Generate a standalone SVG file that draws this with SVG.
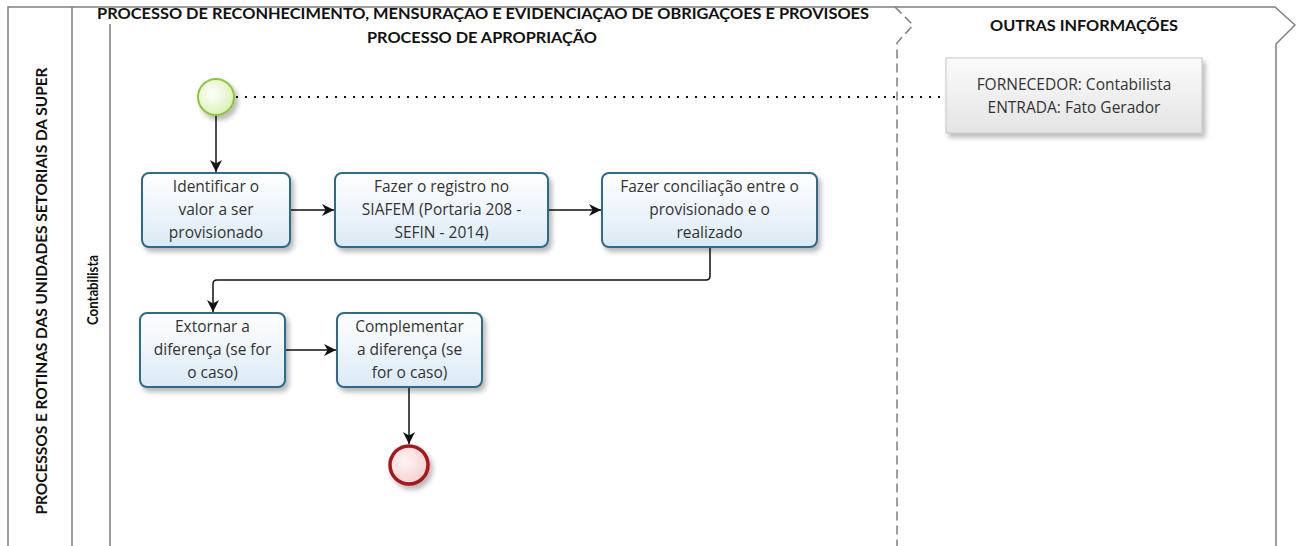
<svg xmlns="http://www.w3.org/2000/svg" width="1296" height="546" viewBox="0 0 1296 546">
<defs>
<style>
.pool{fill:none;stroke:#7f7f7f;stroke-width:1.5}
.dash{fill:none;stroke:#7f7f7f;stroke-width:1.5;stroke-dasharray:9 5}
.task{fill:url(#tg);stroke:#2e6a8a;stroke-width:2;filter:url(#sh)}
.tt{font-family:"Open Sans","Segoe UI",sans-serif;font-size:15.5px;fill:#333;text-anchor:middle}
.hd{font-family:Lato,"Segoe UI",sans-serif;font-size:15px;font-weight:bold;fill:#111}
.conn{fill:none;stroke:#111;stroke-width:1.5}
</style>
<linearGradient id="tg" x1="0" y1="0" x2="0" y2="1"><stop offset="0" stop-color="#ffffff"/><stop offset="1" stop-color="#dbeaf6"/></linearGradient>
<linearGradient id="ag" x1="0" y1="0" x2="0" y2="1"><stop offset="0" stop-color="#fbfbfb"/><stop offset="1" stop-color="#e4e4e4"/></linearGradient>
<radialGradient id="sg" cx="0.4" cy="0.4" r="0.6"><stop offset="0" stop-color="#ffffff"/><stop offset="1" stop-color="#ddf2b8"/></radialGradient>
<radialGradient id="eg" cx="0.4" cy="0.4" r="0.6"><stop offset="0" stop-color="#fff4f4"/><stop offset="1" stop-color="#f6d2d2"/></radialGradient>
<filter id="sh" x="-20%" y="-20%" width="150%" height="160%"><feDropShadow dx="3" dy="4" stdDeviation="2.5" flood-color="#000" flood-opacity="0.28"/></filter>
<marker id="ar" markerWidth="12" markerHeight="12" refX="10" refY="5" orient="auto" markerUnits="userSpaceOnUse" viewBox="0 0 10 10"><path d="M0,0 L10,5 L0,10 L3,5 z" fill="#111"/></marker>
</defs>
<rect width="1296" height="546" fill="#fff"/>
<g id="pool">
<path class="pool" d="M8,546 V7 H1275 L1295,25 L1276,44 V546"/>
<line class="pool" x1="72" y1="7" x2="72" y2="546"/>
<line class="pool" x1="110" y1="24" x2="110" y2="546"/>
<path class="dash" d="M895,7 L913,25 L897,43 V546"/>
<text class="hd" x="483" y="19" text-anchor="middle" textLength="772" lengthAdjust="spacingAndGlyphs">PROCESSO DE RECONHECIMENTO, MENSURAÇAO E EVIDENCIAÇAO DE OBRIGAÇOES E PROVISOES</text>
<text class="hd" x="482" y="43" text-anchor="middle" textLength="230" lengthAdjust="spacingAndGlyphs">PROCESSO DE APROPRIAÇÃO</text>
<text class="hd" x="1084" y="31" text-anchor="middle" textLength="188" lengthAdjust="spacingAndGlyphs">OUTRAS INFORMAÇÕES</text>
<text class="hd" transform="translate(47,291) rotate(-90)" text-anchor="middle" textLength="447" lengthAdjust="spacingAndGlyphs">PROCESSOS E ROTINAS DAS UNIDADES SETORIAIS DA SUPER</text>
<text class="hd" transform="translate(98,290) rotate(-90)" text-anchor="middle" font-size="16" textLength="70" lengthAdjust="spacingAndGlyphs">Contabilista</text>
</g>
<g id="connectors">
<line x1="236" y1="97" x2="946" y2="97" stroke="#111" stroke-width="2" stroke-dasharray="2 7"/>
<line class="conn" x1="216" y1="115" x2="216" y2="172" marker-end="url(#ar)"/>
<line class="conn" x1="290" y1="210" x2="334" y2="210" marker-end="url(#ar)"/>
<line class="conn" x1="548" y1="210" x2="601" y2="210" marker-end="url(#ar)"/>
<path class="conn" d="M710,247 V276 Q710,280 706,280 H217 Q213,280 213,284 V312" marker-end="url(#ar)"/>
<line class="conn" x1="285" y1="350" x2="336" y2="350" marker-end="url(#ar)"/>
<line class="conn" x1="409" y1="387" x2="409" y2="444" marker-end="url(#ar)"/>
</g>
<g id="start">
<circle cx="216" cy="97" r="18" fill="url(#sg)" stroke="#8cc63f" stroke-width="2" filter="url(#sh)"/>
</g>
<g id="annotation">
<rect x="946" y="58" width="256" height="75" fill="url(#ag)" stroke="#c4c4c4" stroke-width="1" filter="url(#sh)"/>
<text class="tt" x="1074" y="90">FORNECEDOR: Contabilista</text>
<text class="tt" x="1074" y="113">ENTRADA: Fato Gerador</text>
</g>
<g id="t1">
<rect class="task" x="142" y="173" width="148" height="74" rx="7"/>
<text class="tt" x="216" y="192">Identificar o</text>
<text class="tt" x="216" y="215">valor a ser</text>
<text class="tt" x="216" y="238">provisionado</text>
</g>
<g id="t2">
<rect class="task" x="335" y="173" width="213" height="74" rx="7"/>
<text class="tt" x="441.5" y="192">Fazer o registro no</text>
<text class="tt" x="441.5" y="215">SIAFEM (Portaria 208 -</text>
<text class="tt" x="441.5" y="238">SEFIN - 2014)</text>
</g>
<g id="t3">
<rect class="task" x="602" y="173" width="215" height="74" rx="7"/>
<text class="tt" x="709.5" y="192">Fazer conciliação entre o</text>
<text class="tt" x="709.5" y="215">provisionado e o</text>
<text class="tt" x="709.5" y="238">realizado</text>
</g>
<g id="t4">
<rect class="task" x="140" y="313" width="145" height="74" rx="7"/>
<text class="tt" x="212.5" y="332">Extornar a</text>
<text class="tt" x="212.5" y="355">diferença (se for</text>
<text class="tt" x="212.5" y="378">o caso)</text>
</g>
<g id="t5">
<rect class="task" x="337" y="313" width="145" height="74" rx="7"/>
<text class="tt" x="409.5" y="332">Complementar</text>
<text class="tt" x="409.5" y="355">a diferença (se</text>
<text class="tt" x="409.5" y="378">for o caso)</text>
</g>
<g id="end">
<circle cx="409" cy="465" r="19" fill="url(#eg)" stroke="#a8161b" stroke-width="3.5" filter="url(#sh)"/>
</g>
</svg>
